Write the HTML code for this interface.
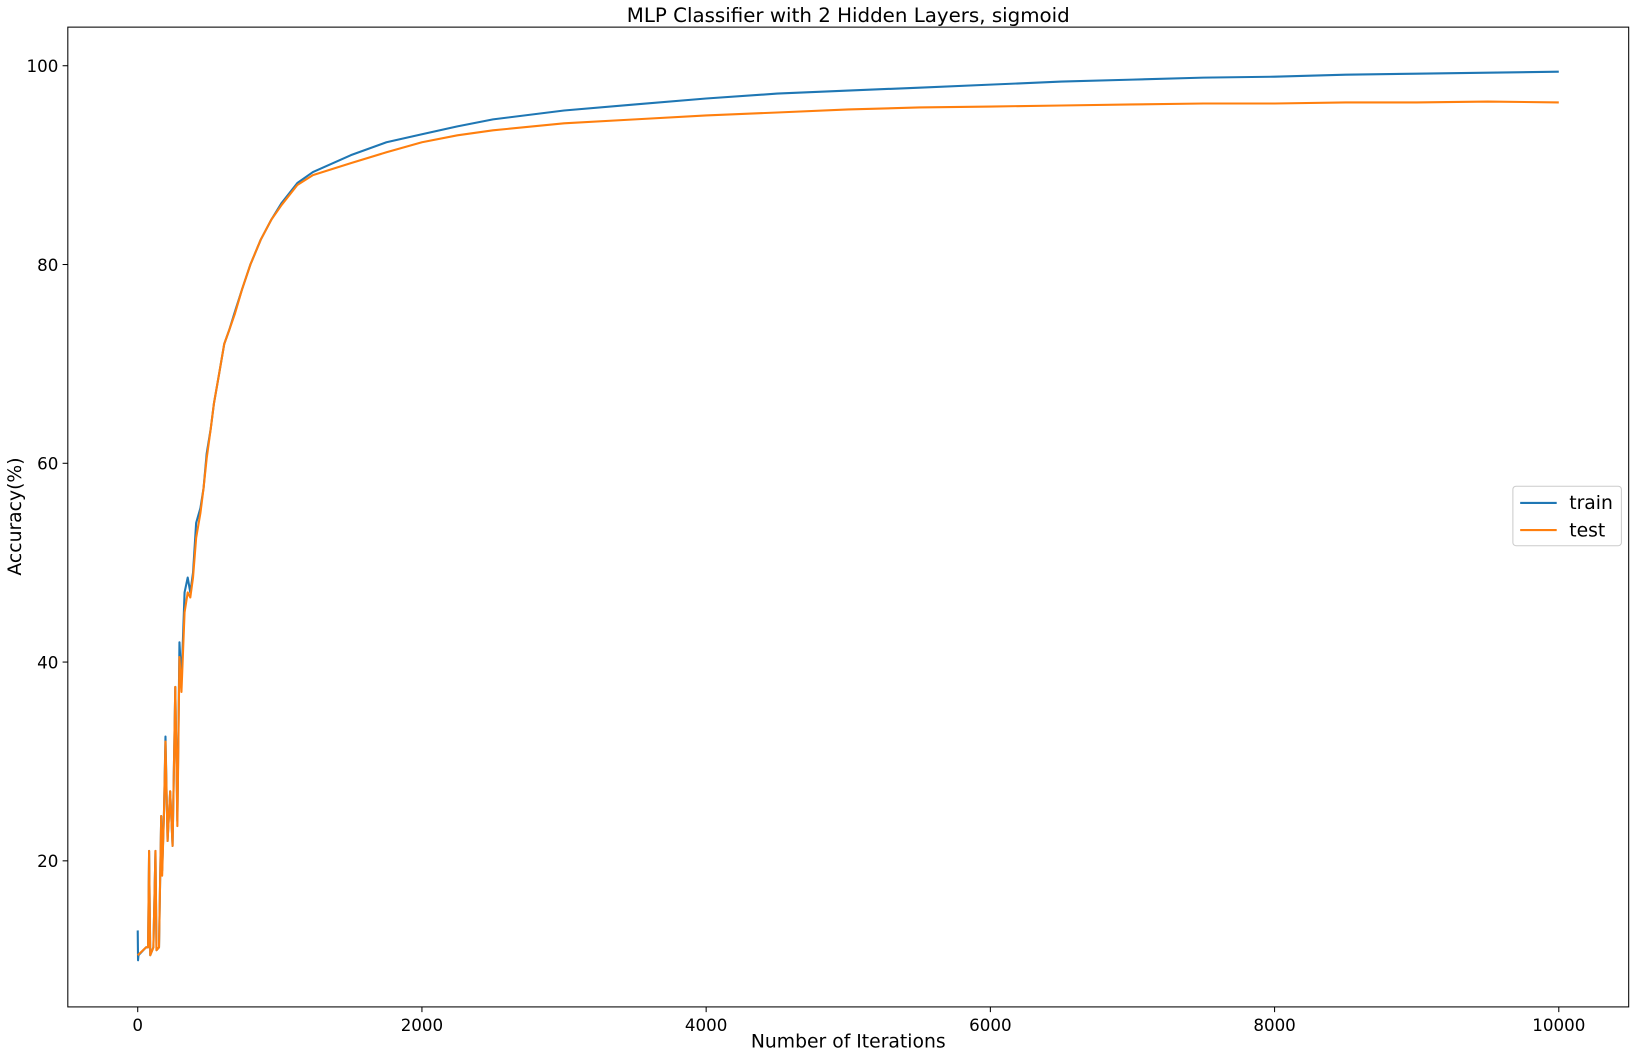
<!DOCTYPE html>
<html><head><meta charset="utf-8"><style>
body{margin:0;background:#fff;}
svg{display:block;}
svg text{font-family:"DejaVu Sans","Liberation Sans",sans-serif;fill:#000;}
</style></head><body>
<svg id="chart" width="1636" height="1057" viewBox="0 0 1568 1013" preserveAspectRatio="none">
<rect x="0" y="0" width="1568" height="1013" fill="#fff"/>
<text x="813" y="21" text-anchor="middle" font-size="19">MLP Classifier with 2 Hidden Layers, sigmoid</text>
<g id="plot"></g>
<text x="813" y="1004" text-anchor="middle" font-size="18">Number of Iterations</text>
<text transform="translate(20,495) rotate(-90)" text-anchor="middle" font-size="18">Accuracy(%)</text>
<g>
<rect x="1450" y="466" width="104" height="57" rx="3" fill="#fff" stroke="#ccc"/>
<line x1="1457" y1="482" x2="1492" y2="482" stroke="#1f77b4" stroke-width="2"/>
<text x="1504" y="488" font-size="18">train</text>
<line x1="1457" y1="508" x2="1492" y2="508" stroke="#ff7f0e" stroke-width="2"/>
<text x="1504" y="514" font-size="18">test</text>
</g>
</svg>
<script>
const xTicks=[0,2000,4000,6000,8000,10000];
const yTicks=[20,40,60,80,100];
const trainIter=[0,2,5,59,73,80,88,110,125,132,150,165,172,184,195,210,228,245,264,279,294,308,330,352,370,389,411,441,463,485,514,536,573,609,646,683,734,793,866,940,1013,1123,1233,1500,1750,2000,2250,2500,3000,3500,4000,4500,5000,5500,6000,6500,7000,7500,8000,8500,9000,9500,10000];
const trainVal=[13,10,10.5,11.3,11.3,21,10.5,11.3,21,11,11.3,24.5,19,24.5,32.5,22,27,21.5,37.5,24,42,38,47,48.5,47,49,54,55.5,57.5,61,63.5,66,69,72,73.5,75.2,77.5,80,82.5,84.5,86.2,88.2,89.3,91,92.3,93.1,93.9,94.6,95.5,96.1,96.7,97.2,97.5,97.8,98.1,98.4,98.6,98.8,98.9,99.1,99.2,99.3,99.4];
const testIter=[0,59,73,80,88,110,125,132,150,165,172,184,195,210,228,245,264,279,294,308,330,352,370,389,411,441,463,485,514,536,573,609,646,683,734,793,866,940,1013,1123,1233,1500,1750,2000,2250,2500,3000,3500,4000,4500,5000,5500,6000,6500,7000,7500,8000,8500,9000,9500,10000];
const testVal=[10.5,11.3,11.3,21,10.5,11.3,21,11,11.3,24.5,18.5,24.5,32,22,27,21.5,37.5,23.5,40.5,37,45,47,46.5,48.5,52.5,55,57.5,60.5,63.5,66,69,72,73.5,75,77.5,80,82.5,84.5,86,88,89,90.2,91.3,92.3,93,93.5,94.2,94.6,95,95.3,95.6,95.8,95.9,96,96.1,96.2,96.2,96.3,96.3,96.4,96.3];
const NS='http://www.w3.org/2000/svg';
const X0=65,X1=1561,Y0=26,Y1=965;
function xs(v){return 132+v*(1494-132)/10000;}
function ys(v){return 63+(100-v)*(825-63)/80;}
const g=document.getElementById('plot');
function mk(t,a){const e=document.createElementNS(NS,t);for(const k in a)e.setAttribute(k,a[k]);g.appendChild(e);return e;}
xTicks.forEach(t=>{
 const l=mk('line',{x1:xs(t),x2:xs(t),y1:Y1,y2:Y1+5,stroke:'#000'});
 
 
 const tx=mk('text',{x:xs(t),y:Y1+23,'text-anchor':'middle','font-size':16});tx.textContent=t;
 
 
});
yTicks.forEach(t=>{
 const l=mk('line',{x1:X0-5,x2:X0,y1:ys(t),y2:ys(t),stroke:'#000'});
 
 
 const tx=mk('text',{x:X0-9,y:ys(t)+6,'text-anchor':'end','font-size':16});tx.textContent=t;
 
 
});
function line(it,v,c,name){
 const d=it.map((x,i)=>(i?'L':'M')+xs(x).toFixed(1)+','+ys(v[i]).toFixed(1)).join('');
 const p=mk('path',{d:d,fill:'none',stroke:c,'stroke-width':2,'stroke-linejoin':'round'});
 
 
}
line(trainIter,trainVal,'#1f77b4','train-line');
line(testIter,testVal,'#ff7f0e','test-line');
const f=mk('rect',{x:X0,y:Y0,width:X1-X0,height:Y1-Y0,fill:'none',stroke:'#000','stroke-width':1});


</script>
</body></html>
